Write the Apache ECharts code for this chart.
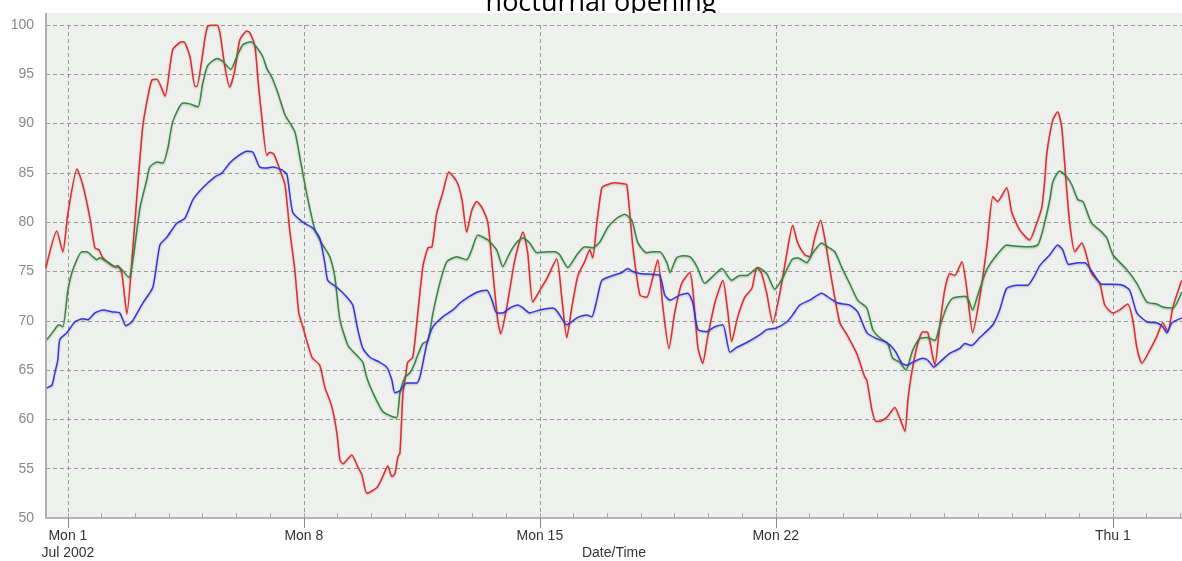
<!DOCTYPE html>
<html>
<head>
<meta charset="utf-8">
<script src="https://cdn.jsdelivr.net/npm/echarts@6/dist/echarts.min.js"></script>
<style>
  html, body { margin: 0; padding: 0; background: #fff; }
  #main { width: 1182px; height: 561px; }
</style>
</head>
<body>
<div id="main"></div>
<script>
// x = days since Mon 1 Jul 2002 00:00
var weekTicks = [0, 7, 14, 21, 31];
var weekLabels = ['Mon 1\nJul 2002', 'Mon 8', 'Mon 15', 'Mon 22', 'Thu 1'];
var dayTicks = [0, 1, 2, 3, 4, 5, 6, 7, 8, 9, 10, 11, 12, 13, 14, 15, 16, 17, 18, 19, 20,
  21, 22, 23, 24, 25, 26, 27, 28, 29, 30, 31, 32, 33];
var yTicks = [50, 55, 60, 65, 70, 75, 80, 85, 90, 95, 100];

var red = [
  [-0.65, 75.4], [-0.33, 79.1], [-0.15, 77.0], [0.00, 80.9], [0.27, 85.4], [0.44, 83.8], [0.65, 80.5],
  [0.80, 77.4], [0.92, 77.2], [1.04, 76.4], [1.39, 75.5], [1.48, 75.6], [1.60, 74.8], [1.75, 70.7],
  [1.93, 77.5], [2.05, 82.8], [2.22, 89.7], [2.37, 92.7], [2.49, 94.4], [2.64, 94.5], [2.88, 92.8],
  [3.11, 97.5], [3.38, 98.3], [3.44, 98.3], [3.62, 96.8], [3.77, 93.8], [3.83, 93.8], [3.97, 96.4],
  [4.15, 99.9], [4.42, 100.0], [4.51, 99.2], [4.66, 95.7], [4.80, 93.7], [4.95, 95.4], [5.10, 98.5],
  [5.31, 99.4], [5.40, 99.2], [5.55, 97.8], [5.64, 94.4], [5.75, 90.7], [5.90, 86.8], [5.99, 87.1],
  [6.11, 86.9], [6.29, 85.3], [6.44, 83.8], [6.58, 79.2], [6.73, 75.2], [6.85, 70.8], [6.97, 69.4],
  [7.24, 66.3], [7.47, 65.5], [7.62, 63.3], [7.83, 61.3], [7.98, 58.6], [8.07, 55.9], [8.16, 55.5],
  [8.42, 56.4], [8.60, 55.2], [8.72, 54.4], [8.87, 52.5], [9.17, 53.1], [9.34, 54.2], [9.49, 55.3],
  [9.61, 54.2], [9.70, 54.5], [9.79, 56.2], [9.85, 56.6], [9.94, 62.7], [10.03, 64.7], [10.08, 65.8],
  [10.23, 66.3], [10.38, 70.8], [10.53, 75.5], [10.68, 77.4], [10.80, 77.5], [10.94, 80.9], [11.12, 83.0],
  [11.30, 85.1], [11.54, 84.1], [11.69, 82.3], [11.83, 79.0], [11.98, 81.2], [12.13, 82.1], [12.28, 81.5],
  [12.46, 79.9], [12.61, 74.8], [12.75, 70.1], [12.84, 68.7], [13.02, 71.4], [13.26, 76.2], [13.50, 79.0],
  [13.64, 76.9], [13.79, 71.9], [14.00, 73.1], [14.21, 74.3], [14.50, 76.3], [14.65, 72.4], [14.80, 68.3],
  [14.95, 71.4], [15.13, 74.6], [15.33, 76.0], [15.48, 77.2], [15.57, 76.4], [15.69, 79.9], [15.84, 83.5],
  [15.99, 83.8], [16.22, 84.0], [16.46, 83.9], [16.58, 83.8], [16.76, 77.5], [16.97, 72.6], [17.17, 72.4],
  [17.35, 74.4], [17.50, 76.2], [17.65, 71.4], [17.83, 67.2], [18.00, 70.8], [18.21, 73.8], [18.45, 74.9],
  [18.54, 73.1], [18.69, 67.3], [18.83, 65.7], [18.98, 68.4], [19.19, 71.8], [19.43, 74.1], [19.58, 70.8],
  [19.69, 67.9], [19.87, 70.4], [20.08, 72.4], [20.29, 73.3], [20.44, 75.4], [20.58, 74.8], [20.73, 72.8],
  [20.91, 69.8], [21.12, 72.8], [21.33, 76.9], [21.50, 79.7], [21.65, 77.9], [21.86, 76.7], [22.01, 76.5],
  [22.16, 78.5], [22.33, 80.2], [22.45, 78.4], [22.66, 74.1], [22.90, 69.8], [23.11, 68.6], [23.40, 66.7],
  [23.64, 64.3], [23.70, 64.0], [23.85, 61.0], [23.97, 59.8], [24.08, 59.8], [24.29, 60.2], [24.53, 61.2],
  [24.68, 60.1], [24.83, 58.8], [24.92, 62.0], [25.03, 64.7], [25.21, 67.7], [25.36, 68.9], [25.51, 68.8],
  [25.66, 66.3], [25.72, 65.5], [25.86, 69.4], [26.01, 73.1], [26.16, 74.8], [26.31, 74.6], [26.52, 76.0],
  [26.66, 73.4], [26.84, 68.8], [27.05, 72.4], [27.26, 77.5], [27.44, 82.6], [27.58, 82.1], [27.85, 83.5],
  [28.00, 81.0], [28.24, 79.2], [28.53, 78.2], [28.74, 79.9], [28.89, 81.5], [28.98, 84.3], [29.04, 87.0],
  [29.22, 90.4], [29.36, 91.2], [29.48, 89.7], [29.63, 83.3], [29.72, 79.9], [29.87, 77.0], [30.08, 77.9],
  [30.17, 77.2], [30.37, 74.8], [30.61, 73.8], [30.76, 71.6], [31.00, 70.8], [31.20, 71.1], [31.44, 71.7],
  [31.59, 70.1], [31.71, 67.3], [31.86, 65.7], [32.09, 67.0], [32.30, 68.4], [32.48, 69.8], [32.63, 68.9],
  [32.78, 71.4], [33.04, 74.1]
];

var green = [
  [-0.62, 68.1], [-0.44, 68.9], [-0.27, 69.6], [-0.15, 69.4], [0.00, 73.1], [0.15, 75.2], [0.42, 77.0],
  [0.56, 77.0], [0.74, 76.5], [0.86, 76.2], [0.95, 76.4], [1.16, 76.0], [1.39, 75.5], [1.54, 75.4],
  [1.81, 74.4], [1.93, 76.2], [2.14, 81.5], [2.34, 84.3], [2.43, 85.6], [2.64, 86.1], [2.82, 86.0],
  [2.97, 87.6], [3.11, 90.2], [3.41, 92.1], [3.62, 92.0], [3.86, 91.7], [4.00, 94.1], [4.15, 95.9],
  [4.42, 96.6], [4.60, 96.3], [4.83, 95.5], [5.01, 96.8], [5.19, 98.0], [5.43, 98.3], [5.61, 97.7],
  [5.78, 96.8], [5.90, 95.6], [6.05, 94.7], [6.23, 93.1], [6.44, 90.9], [6.73, 89.2], [6.88, 86.6],
  [7.09, 82.8], [7.33, 79.2], [7.56, 77.7], [7.77, 76.5], [7.92, 74.4], [8.07, 70.1], [8.31, 67.5],
  [8.57, 66.5], [8.75, 65.8], [8.87, 64.2], [9.05, 62.7], [9.34, 60.8], [9.61, 60.3], [9.76, 60.2],
  [9.85, 62.7], [10.00, 64.3], [10.14, 64.7], [10.29, 65.7], [10.35, 66.3], [10.53, 67.7], [10.68, 68.0],
  [10.83, 70.8], [11.03, 73.8], [11.24, 76.0], [11.54, 76.5], [11.83, 76.2], [11.98, 77.2], [12.16, 78.7],
  [12.46, 78.2], [12.72, 77.2], [12.90, 75.5], [13.11, 76.9], [13.32, 78.0], [13.50, 78.4], [13.70, 77.9],
  [13.91, 76.9], [14.21, 77.0], [14.45, 77.0], [14.59, 76.7], [14.83, 75.4], [15.10, 76.7], [15.33, 77.5],
  [15.57, 77.4], [15.78, 78.0], [16.02, 79.5], [16.28, 80.4], [16.52, 80.8], [16.73, 80.2], [16.91, 77.9],
  [17.17, 76.9], [17.35, 77.0], [17.56, 77.0], [17.77, 75.9], [17.86, 74.9], [18.06, 76.4], [18.24, 76.6],
  [18.45, 76.5], [18.66, 75.5], [18.89, 73.8], [19.10, 74.4], [19.40, 75.3], [19.69, 74.1], [19.93, 74.6],
  [20.14, 74.6], [20.47, 75.4], [20.73, 74.8], [20.97, 73.2], [21.21, 74.4], [21.48, 76.2], [21.65, 76.4],
  [21.92, 75.9], [22.10, 76.9], [22.36, 77.9], [22.54, 77.5], [22.75, 77.0], [22.96, 75.4], [23.19, 73.8],
  [23.43, 72.1], [23.70, 71.3], [23.88, 69.1], [24.08, 68.3], [24.32, 67.7], [24.47, 66.2], [24.68, 65.8],
  [24.86, 65.0], [25.06, 67.0], [25.27, 68.2], [25.51, 68.3], [25.72, 68.0], [25.86, 69.4], [26.07, 71.4],
  [26.25, 72.3], [26.61, 72.5], [26.72, 72.1], [26.84, 71.1], [26.99, 72.6], [27.26, 75.2], [27.56, 76.7],
  [27.85, 77.7], [28.03, 77.6], [28.45, 77.5], [28.77, 77.7], [28.92, 79.2], [29.13, 82.3], [29.22, 84.1],
  [29.42, 85.2], [29.63, 84.6], [29.78, 83.8], [29.96, 82.3], [30.11, 82.1], [30.37, 79.9], [30.61, 79.2],
  [30.82, 78.4], [31.00, 76.7], [31.41, 75.2], [31.71, 73.8], [32.01, 71.9], [32.30, 71.7], [32.48, 71.4],
  [32.78, 71.3], [33.04, 72.9]
];

var blue = [
  [-0.62, 63.2], [-0.47, 63.5], [-0.39, 64.7], [-0.30, 66.0], [-0.24, 68.1], [-0.03, 68.8], [0.21, 69.9],
  [0.44, 70.2], [0.59, 70.1], [0.80, 70.8], [1.04, 71.1], [1.33, 70.9], [1.54, 70.8], [1.72, 69.5],
  [1.90, 69.9], [2.22, 71.8], [2.52, 73.4], [2.73, 77.7], [2.94, 78.5], [3.23, 79.9], [3.47, 80.4],
  [3.71, 82.3], [4.00, 83.5], [4.36, 84.6], [4.57, 85.0], [4.80, 86.0], [5.04, 86.7], [5.31, 87.2],
  [5.49, 87.1], [5.69, 85.6], [5.90, 85.5], [6.08, 85.6], [6.35, 85.3], [6.50, 84.8], [6.67, 81.0],
  [6.97, 80.0], [7.27, 79.4], [7.47, 78.4], [7.62, 75.9], [7.71, 74.1], [7.98, 73.4], [8.28, 72.4],
  [8.45, 71.6], [8.60, 69.1], [8.75, 67.2], [8.96, 66.3], [9.25, 65.8], [9.46, 65.3], [9.61, 64.0],
  [9.70, 62.7], [9.85, 62.9], [10.05, 63.7], [10.35, 63.7], [10.44, 64.3], [10.53, 65.7], [10.65, 67.7],
  [10.83, 69.4], [11.12, 70.4], [11.42, 71.1], [11.63, 71.8], [11.83, 72.3], [12.13, 72.9], [12.43, 73.1],
  [12.58, 72.1], [12.72, 70.8], [12.90, 70.8], [13.11, 71.3], [13.35, 71.6], [13.50, 71.3], [13.70, 70.8],
  [14.00, 71.1], [14.39, 71.3], [14.53, 70.9], [14.80, 69.6], [15.10, 70.3], [15.39, 70.6], [15.54, 70.4],
  [15.69, 72.1], [15.84, 74.1], [16.17, 74.6], [16.43, 74.9], [16.61, 75.3], [16.76, 75.0], [16.97, 74.8],
  [17.35, 74.7], [17.56, 74.6], [17.71, 72.6], [17.86, 72.1], [18.15, 72.6], [18.39, 72.8], [18.54, 71.8],
  [18.69, 69.1], [18.95, 68.9], [19.19, 69.4], [19.43, 69.6], [19.64, 66.8], [19.84, 67.3], [20.14, 67.8],
  [20.53, 68.6], [20.73, 69.1], [21.03, 69.3], [21.33, 69.9], [21.50, 70.6], [21.71, 71.6], [22.01, 72.1],
  [22.36, 72.8], [22.60, 72.3], [22.84, 71.8], [23.19, 71.6], [23.43, 70.9], [23.70, 68.8], [23.99, 68.2],
  [24.29, 67.8], [24.53, 67.0], [24.74, 65.7], [24.89, 65.5], [25.06, 65.8], [25.36, 66.2], [25.51, 66.0],
  [25.69, 65.3], [25.86, 65.8], [26.16, 66.7], [26.46, 67.2], [26.61, 67.7], [26.81, 67.5], [27.05, 68.3],
  [27.44, 69.6], [27.64, 71.1], [27.85, 73.3], [28.15, 73.6], [28.47, 73.6], [28.68, 74.6], [28.83, 75.6],
  [29.13, 76.7], [29.36, 77.7], [29.51, 77.2], [29.69, 75.7], [29.96, 75.9], [30.17, 75.9], [30.40, 74.9],
  [30.67, 73.7], [30.96, 73.7], [31.29, 73.6], [31.50, 73.1], [31.71, 70.8], [32.01, 69.9], [32.30, 69.8],
  [32.48, 69.4], [32.60, 68.8], [32.75, 69.8], [33.04, 70.3]
];

var chart = echarts.init(document.getElementById('main'));

function lineSeries(data, color) {
  return {
    type: 'line',
    data: data,
    showSymbol: false,
    smooth: 0.2,
    lineStyle: {
      color: color,
      width: 1.5,
      shadowColor: 'rgba(0,0,0,0.25)',
      shadowBlur: 2,
      shadowOffsetY: 1
    }
  };
}

chart.setOption({
  animation: false,
  graphic: [
    {
      type: 'text',
      z: -10,
      x: 601,
      y: 17,
      style: {
        text: 'nocturnal opening',
        font: '27px "Open Sans"',
        fill: '#000',
        textAlign: 'center',
        textVerticalAlign: 'bottom'
      }
    },
    {
      type: 'rect',
      z: -10,
      shape: { x: 46, y: 13, width: 1136, height: 505 },
      style: { fill: '#eef0ee' }
    },
    {
      type: 'line',
      z: -10,
      shape: { x1: 46, y1: 13, x2: 46, y2: 26 },
      style: { stroke: '#b0b0b0', lineWidth: 2 }
    }
  ],
  grid: {
    left: 46,
    right: 0,
    top: 25,
    bottom: 43,
    containLabel: false,
    outerBoundsMode: 'none'
  },
  xAxis: [
    {
      type: 'value',
      min: -0.65,
      max: 33.05,
      name: 'Date/Time',
      nameLocation: 'middle',
      nameGap: 28,
      nameMoveOverlap: false,
      nameTextStyle: { color: '#333', fontSize: 14, fontFamily: 'Liberation Sans' },
      axisLine: { onZero: false, lineStyle: { color: '#b4b4b4', width: 2 } },
      axisTick: { customValues: weekTicks, length: 10, lineStyle: { color: '#888' } },
      axisLabel: {
        customValues: weekTicks,
        formatter: function (v) { return weekLabels[weekTicks.indexOf(v)]; },
        color: '#333',
        fontSize: 14,
        fontFamily: 'Liberation Sans',
        lineHeight: 17,
        margin: 10
      },
      splitLine: { show: true, lineStyle: { type: [4, 3], color: '#999' } }
    },
    {
      type: 'value',
      min: -0.65,
      max: 33.05,
      position: 'bottom',
      axisLine: { show: false, onZero: false },
      axisTick: { customValues: dayTicks, inside: true, length: 5, lineStyle: { color: '#aaa' } },
      axisLabel: { show: false },
      splitLine: { show: false }
    }
  ],
  yAxis: {
    type: 'value',
    min: 50,
    max: 100,
    interval: 5,
    axisLine: { show: true, onZero: false, lineStyle: { color: '#b0b0b0', width: 2 } },
    axisTick: { show: false, customValues: yTicks },
    axisLabel: {
      customValues: yTicks,
      color: '#888',
      fontSize: 14,
      fontFamily: 'Liberation Sans',
      margin: 12
    },
    splitLine: { lineStyle: { type: [4, 3], color: '#999' } }
  },
  series: [
    lineSeries(red, '#e52a2a'),
    lineSeries(green, '#318a3c'),
    lineSeries(blue, '#3535e0')
  ]
});
</script>
</body>
</html>
